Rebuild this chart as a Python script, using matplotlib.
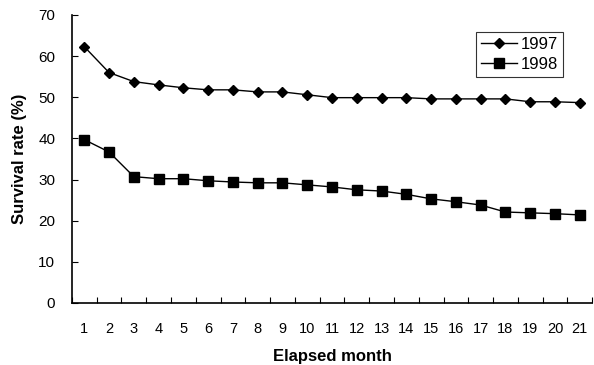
import numpy as np
import matplotlib.pyplot as plt

plt.rcParams['font.family'] = ['Liberation Sans', 'DejaVu Sans']

months = list(range(1, 22))
rate_1997 = [62.3, 56.0, 53.8, 53.0, 52.3, 51.8, 51.8, 51.3, 51.3, 50.6, 49.9,
             49.9, 49.9, 49.9, 49.6, 49.6, 49.6, 49.6, 48.9, 48.9, 48.7]
rate_1998 = [39.7, 36.7, 30.7, 30.2, 30.2, 29.7, 29.4, 29.2, 29.2, 28.7, 28.2,
             27.5, 27.2, 26.4, 25.3, 24.6, 23.8, 22.1, 21.9, 21.7, 21.4]

fig = plt.figure(figsize=(5.94, 3.65), dpi=100)
ax = fig.add_axes([0.121, 0.170, 0.876, 0.789])

ax.plot(months, rate_1997, color='black', marker='D', markersize=5, lw=1, label='1997')
ax.plot(months, rate_1998, color='black', marker='s', markersize=7, lw=1, label='1998')

ax.set_xlim(0.5, 21.5)
ax.set_ylim(0, 70)
ax.set_yticks(np.arange(0, 71, 10))
ax.set_xticks(np.arange(0.5, 22, 1))
ax.set_xticklabels([])
ax.set_xticks(months, minor=True)
ax.set_xticklabels([str(m) for m in months], minor=True, fontsize=10.5)
ax.tick_params(axis='x', which='major', direction='in', length=4)
ax.tick_params(axis='x', which='minor', length=0, pad=14)
ax.tick_params(axis='y', direction='in', length=4, labelsize=11, pad=12)

for s in ['top', 'right']:
    ax.spines[s].set_visible(False)
ax.spines['left'].set_linewidth(1.2)
ax.spines['bottom'].set_linewidth(1.2)

ax.set_xlabel('Elapsed month', fontsize=12, fontweight='bold', labelpad=9)
ax.set_ylabel('Survival rate (%)', fontsize=12, fontweight='bold', labelpad=8)

leg = ax.legend(loc='upper right', bbox_to_anchor=(0.944, 0.941), fontsize=12,
                frameon=True, fancybox=False, edgecolor='black', handlelength=2.2,
                borderpad=0.3, labelspacing=0.3, handletextpad=0.2, borderaxespad=0)
leg.get_frame().set_linewidth(0.8)

fig.savefig('out.png', dpi=100)
